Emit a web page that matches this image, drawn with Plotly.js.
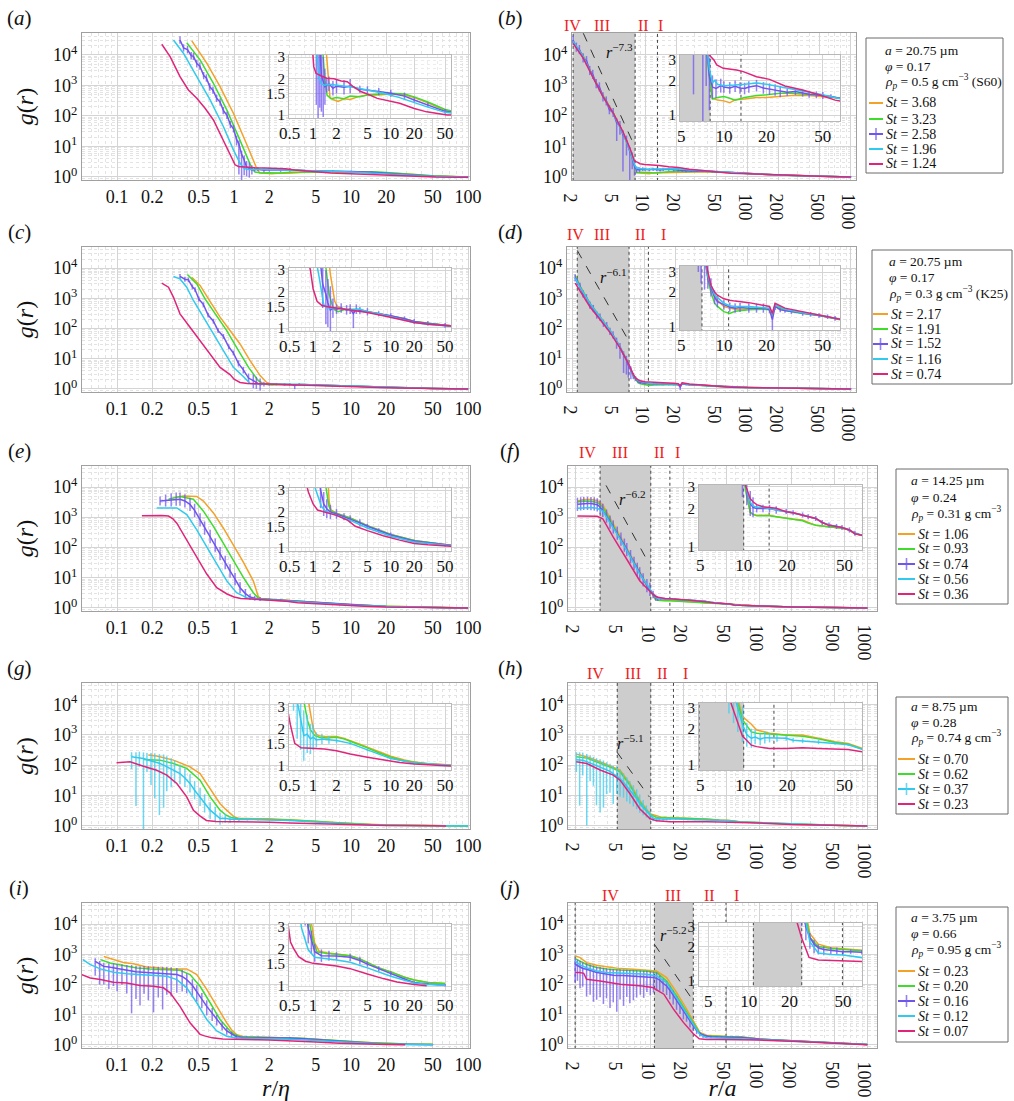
<!DOCTYPE html>
<html><head><meta charset="utf-8">
<script src="https://cdn.plot.ly/plotly-3.0.1.min.js"></script>
<style>html,body{margin:0;padding:0;background:#fff}#plot{width:1014px;height:1101px}</style>
</head><body><div id="plot"></div>
<script>
// ---------------- DATA ----------------
// Panel (a): r/eta, S60, St = 3.68, 3.23, 2.58, 1.96, 1.24
const A_or_x=[0.435,0.584,0.759,0.987,1.24,1.42,1.56,1.65,1.8,2.1,2.5,3,4,5,7,10,15,20,30,50,100];
const A_or_y=[29000,5400,910,123,16,4.6,1.93,1.38,1.33,1.28,1.35,1.33,1.42,1.45,1.45,1.48,1.45,1.38,1.25,1.08,1.0];
const A_gr_x=[0.394,0.512,0.666,0.866,1.09,1.28,1.42,1.51,1.7,2,2.5,3,4,5,7,10,15,20,30,50,100];
const A_gr_y=[25000,6900,1180,158,21,4.6,1.93,1.45,1.35,1.38,1.35,1.42,1.4,1.45,1.48,1.5,1.48,1.4,1.27,1.1,1.0];
const A_pu_x=[0.345,0.37,0.40,0.43,0.45,0.48,0.51,0.55,0.58,0.62,0.66,0.71,0.76,0.81,0.87,0.93,0.99,1.05,1.1,1.16,1.22,1.28,1.35,1.42,1.5,1.6,1.8,2,2.5,3,4,5,7,10,15,20,30,50,100];
const A_pu_y=[31000,17000,15000,9500,9000,5200,4300,2100,1750,900,700,380,285,150,105,52,38,17,12,5.5,3.6,2.1,1.9,1.7,1.75,1.8,1.65,1.72,1.68,1.72,1.62,1.6,1.55,1.5,1.42,1.32,1.2,1.06,1.0];
const A_pu_eh=[0.12,0.12,0.12,0.12,0.12,0.12,0.12,0.12,0.12,0.12,0.12,0.12,0.12,0.12,0.12,0.12,0.12,0.12,0.12,0.12,0.15,0.2,0.2,0.15,0.06,0.06,0.06,0.06,0.06,0.06,0.03,0.03,0.03,0.03,0.03,0.02,0.02,0.02,0.02];
const A_pu_el=[0.12,0.12,0.12,0.12,0.12,0.12,0.12,0.12,0.12,0.12,0.12,0.12,0.12,0.12,0.12,0.12,0.12,0.2,1.0,0.9,0.5,0.3,0.3,0.15,0.06,0.06,0.06,0.06,0.06,0.06,0.03,0.03,0.03,0.03,0.03,0.02,0.02,0.02,0.02];
const A_cy_x=[0.303,0.369,0.48,0.624,0.81,0.987,1.125,1.2,1.28,1.4,1.6,2,3,5,8,13,20,30,50,100];
const A_cy_y=[31000,11400,1940,335,45,7.7,2.8,2.0,1.8,1.75,1.78,1.75,1.7,1.6,1.5,1.38,1.25,1.15,1.04,1.0];
const A_pk_x=[0.241,0.284,0.345,0.407,0.48,0.565,0.666,0.785,0.924,1.02,1.09,1.26,1.5,1.86,2.3,2.76,3.3,4.1,5,6.7,10,13,20,29,53,100];
const A_pk_y=[22400,8800,1940,710,380,178,74,21,6,2.5,2.2,2.1,2.0,1.98,1.9,1.87,1.7,1.55,1.48,1.36,1.28,1.24,1.12,1.05,0.99,0.97];

// Panel (c): r/eta, K25, St = 2.17, 1.91, 1.52, 1.16, 0.74
const C_or_x=[0.435,0.512,0.604,0.759,0.924,1.125,1.37,1.67,1.9,2.05,2.5,3,4,5,7,10,15,20,30,50,100];
const C_or_y=[5000,2680,960,240,86,31,8.7,2.77,1.65,1.5,1.42,1.4,1.38,1.35,1.3,1.25,1.18,1.12,1.08,1.04,1.0];
const C_gr_x=[0.399,0.48,0.565,0.688,0.866,1.05,1.33,1.61,1.78,1.9,2.1,2.5,3,4,5,7,10,15,20,30,50,100];
const C_gr_y=[6200,3000,960,307,86,24,5.2,1.89,1.5,1.4,1.35,1.4,1.42,1.4,1.35,1.3,1.25,1.18,1.12,1.08,1.04,1.0];
const C_pu_x=[0.345,0.38,0.407,0.44,0.464,0.5,0.547,0.6,0.666,0.73,0.811,0.9,0.987,1.09,1.2,1.33,1.46,1.55,1.67,1.8,2,2.3,2.7,3,3.3,3.6,4,5,7,10,15,20,30,50,100];
const C_pu_y=[5300,4300,4100,2400,1950,950,620,280,175,85,55,25,15.5,7,4.3,2.3,1.89,1.6,1.39,1.45,1.42,1.45,1.4,1.42,1.3,1.42,1.38,1.35,1.3,1.25,1.18,1.12,1.08,1.04,1.0];
const C_pu_eh=[0.08,0.08,0.08,0.08,0.08,0.08,0.08,0.08,0.08,0.08,0.08,0.08,0.08,0.1,0.1,0.15,0.2,0.2,0.2,0.08,0.04,0.04,0.04,0.04,0.04,0.04,0.03,0.03,0.02,0.02,0.02,0.02,0.02,0.02,0.02];
const C_pu_el=[0.08,0.08,0.08,0.08,0.08,0.08,0.08,0.08,0.08,0.08,0.08,0.08,0.08,0.1,0.12,0.2,0.25,0.2,0.2,0.08,0.04,0.04,0.04,0.04,0.12,0.04,0.03,0.03,0.02,0.02,0.02,0.02,0.02,0.02,0.02];
const C_cy_x=[0.303,0.345,0.394,0.449,0.547,0.666,0.811,0.987,1.2,1.37,1.5,1.7,2,2.5,3,4,5,7,10,15,20,30,50,100];
const C_cy_y=[5300,4400,2340,850,240,67,18.7,5.2,2.6,1.55,1.45,1.45,1.45,1.42,1.4,1.42,1.35,1.3,1.22,1.15,1.1,1.06,1.03,1.0];
const C_pk_x=[0.241,0.275,0.303,0.345,0.42,0.512,0.624,0.759,0.924,1.0,1.125,1.3,1.6,2,2.5,3,5,8,13,20,30,50,100];
const C_pk_y=[3200,2340,1100,307,110,40,14.5,5.2,3.0,2.1,1.65,1.52,1.48,1.45,1.42,1.4,1.33,1.25,1.17,1.1,1.06,1.03,1.0];

// Panel (e): r/eta, St = 1.06, 0.93, 0.74, 0.56, 0.36
const E_or_x=[0.303,0.37,0.48,0.547,0.666,0.811,0.987,1.2,1.46,1.61,1.7,2,3,5,10,20,50,100];
const E_or_y=[4500,5100,4900,3470,1400,436,120,33,7.9,2.4,2.05,1.93,1.76,1.52,1.28,1.14,1.05,1.0];
const E_gr_x=[0.275,0.345,0.449,0.547,0.666,0.811,0.987,1.2,1.46,1.6,1.7,2,3,5,10,20,50,100];
const E_gr_y=[4000,4900,4000,1600,500,136,37,10.3,3.2,2.2,2.02,1.92,1.76,1.52,1.28,1.14,1.05,1.0];
const E_pu_x=[0.233,0.26,0.29,0.32,0.345,0.38,0.42,0.46,0.512,0.56,0.624,0.69,0.759,0.84,0.924,1.02,1.125,1.25,1.37,1.5,1.67,2,2.5,3,4,5,7,10,20,50,100];
const E_pu_y=[3470,3600,3800,4000,4000,3500,2680,1700,830,440,229,120,63,32,17,9,4.7,3.0,2.3,2.1,1.97,1.9,1.8,1.73,1.6,1.5,1.38,1.27,1.13,1.04,1.0];
const E_pu_e=[0.15,0.2,0.22,0.22,0.22,0.22,0.22,0.22,0.22,0.22,0.22,0.22,0.22,0.22,0.22,0.2,0.18,0.15,0.1,0.08,0.06,0.04,0.03,0.03,0.03,0.02,0.02,0.02,0.01,0.01,0.01];
const E_cy_x=[0.218,0.26,0.324,0.394,0.48,0.584,0.711,0.866,1.05,1.28,1.45,1.56,1.7,2,3,5,10,20,50,100];
const E_cy_y=[2050,2050,2050,1230,385,105,29,7.9,3.2,2.2,2.0,1.95,1.92,1.85,1.68,1.45,1.24,1.11,1.04,1.0];
const E_pk_x=[0.163,0.2,0.24,0.275,0.3,0.324,0.394,0.48,0.584,0.711,0.87,1.0,1.14,1.4,1.7,2,2.8,3.5,5,8,13,20,30,50,100];
const E_pk_y=[1140,1150,1150,1100,900,640,177,49,13.3,4.7,2.9,2.3,2.05,1.98,1.92,1.85,1.68,1.5,1.38,1.25,1.15,1.08,1.05,1.02,1.0];

// Panel (g): r/eta, St = 0.70, 0.62, 0.37, 0.23
const G_or_x=[0.185,0.218,0.303,0.42,0.512,0.624,0.759,0.85,0.924,1.0,1.09,1.2,1.5,2,2.5,3,4,5,7,10,15,20,30,50,100];
const G_or_y=[214,200,146,88,53,17,5.4,3.5,2.6,2.0,1.8,1.75,1.72,1.72,1.66,1.6,1.5,1.42,1.3,1.2,1.12,1.08,1.05,1.03,1.0];
const G_gr_x=[0.168,0.233,0.303,0.394,0.512,0.624,0.759,0.85,0.924,1.05,1.2,1.5,2,2.5,3,4,5,7,10,15,20,30,50,100];
const G_gr_y=[154,146,113,78,32,9,3.3,2.3,1.95,1.75,1.7,1.68,1.7,1.65,1.58,1.48,1.4,1.28,1.18,1.1,1.07,1.04,1.02,1.0];
const G_cy_x=[0.133,0.145,0.155,0.168,0.18,0.195,0.21,0.23,0.25,0.266,0.29,0.31,0.345,0.38,0.42,0.46,0.512,0.56,0.624,0.69,0.759,0.84,0.924,1.0,1.1,1.3,1.6,2,3,5,10,20,50,100];
const G_cy_y=[188,180,175,166,150,140,129,115,100,88,75,63,53,38,25,15,9,5.5,3.3,2.4,1.75,1.8,1.65,1.7,1.62,1.65,1.62,1.6,1.52,1.35,1.15,1.06,1.02,1.0];
const G_cy_eh=[0.15,0.17,0.2,0.2,0.22,0.25,0.28,0.3,0.35,0.35,0.35,0.35,0.3,0.3,0.3,0.3,0.3,0.3,0.25,0.25,0.2,0.15,0.12,0.1,0.06,0.04,0.03,0.02,0.01,0.01,0.01,0.01,0.01,0.01];
const G_cy_el=[0.4,1.6,0.3,3,0.4,0.8,1.2,1.7,1.4,0.8,0.6,0.4,0.35,0.3,0.3,0.3,0.3,0.3,0.3,0.25,0.2,0.15,0.12,0.1,0.06,0.04,0.03,0.02,0.01,0.01,0.01,0.01,0.01,0.01];
const G_pk_x=[0.099,0.129,0.168,0.218,0.266,0.324,0.394,0.449,0.51,0.58,0.7,1.0,1.4,2,3,5,8,13,20,50,65];
const G_pk_y=[120,129,92,68,47,25,9,3.3,2.14,1.52,1.4,1.38,1.37,1.33,1.25,1.18,1.12,1.07,1.04,1.02,1.0];

// Panel (i): r/eta, St = 0.23, 0.20, 0.16, 0.12, 0.07
const I_or_x=[0.077,0.093,0.113,0.138,0.179,0.233,0.303,0.394,0.48,0.584,0.711,0.866,0.95,1.05,1.2,1.5,2,3,4,5,7,10,15,20,30,50];
const I_or_y=[850,670,540,490,380,355,330,330,214,69,19,5.4,3.2,2.2,1.9,1.85,1.8,1.75,1.65,1.55,1.4,1.3,1.18,1.12,1.07,1.05];
const I_gr_x=[0.072,0.087,0.113,0.148,0.191,0.266,0.345,0.42,0.512,0.624,0.759,0.924,1.0,1.125,1.5,2,3,4,5,7,10,15,20,30,50];
const I_gr_y=[670,515,425,355,330,310,296,214,88,25,7,2.9,2.3,1.88,1.82,1.8,1.75,1.65,1.55,1.4,1.3,1.18,1.12,1.07,1.05];
const I_pu_x=[0.065,0.071,0.077,0.085,0.093,0.1,0.11,0.121,0.133,0.145,0.157,0.17,0.185,0.205,0.225,0.245,0.266,0.29,0.324,0.36,0.394,0.44,0.48,0.53,0.584,0.65,0.711,0.79,0.866,0.95,1.05,1.28,1.6,2,3,4,5,7,10,15,20,30,50];
const I_pu_y=[590,480,400,380,355,330,310,296,280,265,256,250,245,240,235,232,230,225,214,185,146,95,60,33,19,11,7,4.3,2.9,2.3,1.88,1.75,1.75,1.74,1.7,1.6,1.5,1.38,1.25,1.14,1.07,1.04,1.02];
const I_pu_eh=[0.1,0.1,0.12,0.12,0.15,0.15,0.18,0.18,0.2,0.2,0.2,0.22,0.22,0.22,0.22,0.22,0.22,0.22,0.22,0.22,0.2,0.2,0.2,0.2,0.2,0.18,0.15,0.12,0.1,0.08,0.06,0.05,0.04,0.03,0.03,0.03,0.02,0.02,0.02,0.01,0.01,0.01,0.01];
const I_pu_el=[0.47,0.68,0.6,0.73,0.6,0.74,0.5,0.77,1.4,0.9,1.1,0.7,0.91,1.3,0.8,1.19,0.7,0.75,0.6,0.5,0.45,0.4,0.35,0.3,0.3,0.25,0.2,0.15,0.12,0.1,0.08,0.05,0.04,0.03,0.03,0.03,0.02,0.02,0.02,0.01,0.01,0.01,0.01];
const I_cy_x=[0.051,0.059,0.072,0.093,0.121,0.157,0.205,0.266,0.324,0.394,0.48,0.584,0.711,0.866,1.05,1.3,1.6,2,3,5,10,20,30,50];
const I_cy_y=[670,457,330,256,230,214,200,188,146,78,25,7,2.9,1.95,1.7,1.68,1.65,1.62,1.55,1.4,1.2,1.06,1.03,1.02];
const I_pk_x=[0.05,0.059,0.072,0.093,0.121,0.157,0.205,0.249,0.284,0.345,0.42,0.512,0.56,0.65,0.8,1.0,1.3,1.6,2,3,4,5,8,12,20,29];
const I_pk_y=[214,166,146,120,113,93,88,78,53,19,5.4,2.25,2.0,1.72,1.58,1.52,1.5,1.48,1.45,1.38,1.3,1.25,1.15,1.08,1.03,1.01];

// Panel (b): r/a
const B_x=[2.0,2.5,3.1,3.9,4.9,6.1,7.1,7.9,8.3,9,10,11,12,14,17,20,25,30,40,50,67,100,200,500,1000];
const B_or_y=[26000,9500,2100,480,130,28,7.8,2.2,1.4,1.35,1.33,1.28,1.36,1.38,1.42,1.42,1.45,1.48,1.48,1.45,1.4,1.3,1.15,1.05,1.0];
const B_gr_y=[26000,9300,2000,460,125,27,7.5,2.1,1.38,1.42,1.45,1.4,1.35,1.42,1.48,1.5,1.55,1.55,1.5,1.48,1.4,1.3,1.15,1.05,1.0];
const B_pu_x=[2.0,2.15,2.3,2.5,2.7,2.9,3.1,3.35,3.6,3.9,4.2,4.5,4.9,5.3,5.7,6.1,6.6,7.1,7.5,7.9,8.3,8.8,9.5,10,11,12,13,14,15,17,19,21,23,25,28,32,36,40,45,50,57,67,100,200,500,1000];
const B_pu_y=[30000,18000,15000,8000,6500,3100,2300,1150,900,420,310,160,130,60,48,24,16,6.8,4.5,2.2,1.75,1.7,1.8,1.75,1.72,1.78,1.72,1.7,1.75,1.8,1.72,1.68,1.65,1.6,1.58,1.6,1.55,1.52,1.5,1.48,1.45,1.4,1.3,1.15,1.05,1.0];
const B_pu_eh=[0.15,0.15,0.15,0.15,0.15,0.15,0.15,0.15,0.15,0.15,0.15,0.15,0.15,0.15,0.15,0.15,0.15,0.15,0.15,0.15,0.1,0.08,0.06,0.05,0.05,0.05,0.05,0.05,0.05,0.05,0.05,0.05,0.05,0.05,0.03,0.03,0.03,0.03,0.03,0.03,0.02,0.02,0.02,0.02,0.02,0.02];
const B_pu_el=[0.15,0.15,0.15,0.15,0.15,0.15,0.15,0.15,0.15,0.15,0.15,0.15,0.15,0.6,0.3,1.2,0.5,1.0,0.4,0.3,0.1,0.08,0.06,0.05,0.05,0.05,0.05,0.05,0.05,0.05,0.05,0.05,0.05,0.05,0.03,0.03,0.03,0.03,0.03,0.03,0.02,0.02,0.02,0.02,0.02,0.02];
const B_cy_x=[2.0,2.5,3.1,3.9,4.9,6.1,7.1,7.9,8.3,8.6,9,10,11,12,14,17,20,25,30,40,50,67,100,200,500,1000];
const B_cy_y=[28000,9000,1950,430,122,27,7.6,2.5,1.9,2.0,1.85,1.8,1.8,1.82,1.85,1.9,1.85,1.75,1.68,1.58,1.5,1.38,1.3,1.15,1.05,1.0];
const B_pk_x=[2.0,2.5,3.1,3.9,4.9,6.1,7.1,7.9,8.5,8.9,9.9,12.3,13.7,17,21,27,36,47,61,68,100,200,500,1000];
const B_pk_y=[24000,8000,1900,430,125,30,9,3.3,3.0,2.72,2.54,2.46,2.38,2.15,2.04,1.79,1.65,1.5,1.35,1.32,1.28,1.15,1.05,1.0];
const B_st=['3.68','3.23','2.58','1.96','1.24'];
const B_info=['<i>a</i> = 20.75 µm','<i>φ</i> = 0.17','<i>ρ</i><sub><i>p</i></sub> = 0.5 g cm<sup>−3</sup> (S60)'];
const B_bounds=[2.0,8.0,13.2], B_shade=[2.0,8.0];
const B_pl_x=[2.51,7.7], B_pl_y=[51500,12.5], B_pl_lab=[5.6,13800,'−7.3'];

// Panel (d): r/a
const D_x=[2.1,2.34,2.92,3.66,4.57,5.72,6.9,7.7,8.1,8.6,9,10,11,12,15,19,21,22,23,27,36,47,61,68,100,200,500,1000];
const D_or_y=[5700,2600,700,250,90,25,7,2.9,2.3,1.9,1.7,1.5,1.45,1.42,1.42,1.45,1.42,1.28,1.55,1.4,1.32,1.26,1.18,1.15,1.12,1.08,1.03,1.0];
const D_gr_y=[5800,2500,680,240,86,24,6.7,2.6,2.0,1.6,1.5,1.35,1.3,1.36,1.4,1.42,1.4,1.25,1.5,1.38,1.3,1.25,1.18,1.14,1.12,1.08,1.03,1.0];
const D_cy_y=[4700,2350,680,245,88,25,7.2,2.8,2.3,1.9,1.8,1.6,1.52,1.5,1.5,1.48,1.45,1.3,1.55,1.42,1.32,1.26,1.18,1.15,1.12,1.08,1.03,1.0];
const D_pk_y=[3200,1800,520,200,75,23,7,3.0,2.3,2.0,1.88,1.75,1.7,1.67,1.62,1.55,1.5,1.3,1.6,1.45,1.35,1.27,1.2,1.15,1.12,1.08,1.03,1.0];
const D_pu_x=[2.1,2.2,2.34,2.5,2.7,2.92,3.15,3.4,3.66,3.95,4.25,4.57,4.9,5.3,5.72,6.2,6.6,6.9,7.3,7.7,8.1,8.6,9,10,11,12,13,15,17,19,21,22,23,25,27,30,36,41,47,54,61,68,100,200,500,1000];
const D_pu_y=[4800,3600,2500,1400,1050,600,460,280,240,150,125,80,62,38,25,13.5,9.5,6,4.2,2.7,2.2,1.8,1.65,1.55,1.48,1.45,1.47,1.45,1.45,1.45,1.4,1.15,1.5,1.4,1.38,1.35,1.3,1.28,1.25,1.22,1.18,1.15,1.12,1.08,1.03,1.0];
const D_pu_eh=[0.12,0.12,0.12,0.12,0.12,0.12,0.12,0.12,0.12,0.12,0.12,0.12,0.12,0.12,0.12,0.12,0.12,0.12,0.12,0.1,0.08,0.06,0.05,0.04,0.04,0.04,0.04,0.04,0.04,0.04,0.03,0.03,0.03,0.02,0.02,0.02,0.02,0.02,0.02,0.02,0.02,0.02,0.02,0.02,0.02,0.02];
const D_pu_el=[0.12,0.12,0.12,0.12,0.12,0.12,0.12,0.12,0.12,0.12,0.12,0.12,0.12,0.25,0.4,0.6,0.5,0.4,0.3,0.1,0.08,0.06,0.05,0.04,0.04,0.04,0.04,0.04,0.04,0.04,0.03,0.1,0.03,0.02,0.02,0.02,0.02,0.02,0.02,0.02,0.02,0.02,0.02,0.02,0.02,0.02];
const D_st=['2.17','1.91','1.52','1.16','0.74'];
const D_info=['<i>a</i> = 20.75 µm','<i>φ</i> = 0.17','<i>ρ</i><sub><i>p</i></sub> = 0.3 g cm<sup>−3</sup> (K25)'];
const D_bounds=[2.2,7.0,10.8], D_shade=[2.2,7.0];
const D_pl_x=[2.2,6.8], D_pl_y=[38600,45], D_pl_lab=[4.93,5300,'−6.1'];

// Panel (f): r/a
const F_x=[2.1,2.4,2.8,3.2,3.6,4.5,6.0,7.9,9.8,10.5,11.1,11.6,12.3,13.6,15.1,16.8,19.7,22,25.6,28,31.6,35,39,44,48,54,59,67,100,200,500,1000];
const F_or_y=[3500,3900,3900,3600,2600,600,95,15,4.0,2.6,1.85,1.8,1.77,1.77,1.77,1.72,1.67,1.65,1.62,1.55,1.47,1.45,1.43,1.42,1.39,1.35,1.26,1.22,1.17,1.08,1.03,1.0];
const F_gr_y=[3200,3500,3400,3100,2200,520,85,14,3.9,2.5,1.88,1.8,1.75,1.75,1.75,1.72,1.67,1.63,1.6,1.53,1.47,1.45,1.43,1.42,1.39,1.35,1.26,1.22,1.17,1.08,1.03,1.0];
const F_cy_y=[2000,2100,2100,2000,1600,450,80,13.5,4.2,2.8,2.25,2.1,2.05,2.05,2.0,1.95,1.9,1.85,1.78,1.72,1.67,1.55,1.48,1.44,1.41,1.35,1.27,1.22,1.17,1.08,1.03,1.0];
const F_pk_y=[1100,1100,1100,1080,900,220,41,8,3.6,2.82,2.4,2.27,2.15,2.07,2.03,2.01,1.89,1.85,1.77,1.72,1.67,1.55,1.47,1.44,1.41,1.35,1.26,1.22,1.17,1.08,1.03,1.0];
const F_pu_x=[2.1,2.25,2.4,2.6,2.8,3.0,3.2,3.4,3.6,3.9,4.2,4.5,4.9,5.3,5.7,6.0,6.5,7.0,7.5,7.9,8.5,9.2,9.8,10.5,11.1,11.6,12.3,13.6,15.1,16.8,19.7,22,25.6,28,31.6,35,39,44,48,54,59,67,100,200,500,1000];
const F_pu_y=[2700,2800,2900,2900,2850,2800,2600,2200,1700,1100,700,480,300,190,120,85,50,30,19,13.5,8.5,5.5,4.1,2.8,2.2,2.05,2.0,2.0,2.0,1.95,1.9,1.85,1.78,1.72,1.67,1.55,1.48,1.44,1.41,1.35,1.27,1.22,1.17,1.08,1.03,1.0];
const F_pu_e=[0.22,0.22,0.22,0.22,0.22,0.22,0.22,0.22,0.22,0.22,0.22,0.22,0.22,0.22,0.22,0.22,0.22,0.22,0.22,0.22,0.22,0.22,0.22,0.12,0.1,0.08,0.03,0.03,0.03,0.03,0.02,0.02,0.02,0.02,0.02,0.02,0.02,0.02,0.02,0.02,0.02,0.02,0.02,0.02,0.02,0.02];
const F_st=['1.06','0.93','0.74','0.56','0.36'];
const F_info=['<i>a</i> = 14.25 µm','<i>φ</i> = 0.24','<i>ρ</i><sub><i>p</i></sub> = 0.31 g cm<sup>−3</sup>'];
const F_bounds=[3.4,10.0,15.0], F_shade=[3.4,10.0];
const F_pl_x=[3.86,9.5], F_pl_y=[11400,32], F_pl_lab=[6.8,4450,'−6.2'];

// Panel (h): r/a
const H_x=[2.05,2.56,3.4,4.5,5.2,6.4,7.9,9.8,11.3,12.3,15.1,19.7,25.6,33,43,53,67,100,200,500,1000];
const H_or_y=[230,188,129,88,69,25,7,2.55,2.2,1.97,1.85,1.79,1.79,1.68,1.57,1.52,1.38,1.29,1.13,1.05,1.0];
const H_gr_y=[190,170,115,78,60,22,6.2,2.4,1.9,1.85,1.82,1.78,1.75,1.66,1.55,1.5,1.36,1.29,1.13,1.05,1.0];
const H_pk_y=[129,113,69,47,32,11.7,3.7,1.75,1.47,1.43,1.38,1.38,1.4,1.38,1.36,1.35,1.29,1.25,1.12,1.05,1.0];
const H_cy_x=[2.05,2.2,2.35,2.56,2.75,2.95,3.15,3.4,3.65,3.9,4.2,4.5,4.85,5.2,5.6,6.0,6.4,6.9,7.4,7.9,8.5,9.1,9.8,10.5,11.3,12,13,14,15.1,17,19.7,22,25.6,33,43,53,67,100,200,500,1000];
const H_cy_y=[150,148,145,130,118,105,95,88,80,70,62,53,45,36,27,20,15,11,8,5.4,4,3,2.2,1.8,1.68,1.72,1.65,1.7,1.7,1.68,1.68,1.62,1.6,1.57,1.52,1.48,1.35,1.29,1.13,1.05,1.0];
const H_cy_eh=[0.25,0.25,0.25,0.25,0.25,0.25,0.25,0.25,0.25,0.25,0.25,0.25,0.3,0.3,0.3,0.3,0.3,0.3,0.3,0.3,0.25,0.2,0.15,0.1,0.08,0.06,0.05,0.05,0.04,0.03,0.02,0.02,0.02,0.02,0.01,0.01,0.01,0.01,0.01,0.01,0.01];
const H_cy_el=[0.4,1.5,0.5,2.1,0.6,0.7,1.3,1.5,1.3,0.8,0.7,1.0,0.6,0.6,0.5,0.5,0.45,0.4,0.35,0.3,0.25,0.2,0.15,0.1,0.08,0.06,0.05,0.05,0.04,0.03,0.02,0.02,0.02,0.02,0.01,0.01,0.01,0.01,0.01,0.01,0.01];
const H_st=['0.70','0.62','0.37','0.23'];
const H_info=['<i>a</i> = 8.75 µm','<i>φ</i> = 0.28','<i>ρ</i><sub><i>p</i></sub> = 0.74 g cm<sup>−3</sup>'];
const H_bounds=[4.9,10.0,16.2], H_shade=[4.9,10.0];
const H_pl_x=[4.84,9.7], H_pl_y=[275,9.0], H_pl_lab=[6.5,575,'−5.1'];

// Panel (j): r/a
const J_x=[2.0,2.22,2.55,3.16,3.9,5.2,6.9,9.2,11.3,14,17.3,21.4,26.5,28.4,32.8,40.6,50,69,100,200,500,1000];
const J_or_y=[890,780,530,435,390,337,320,305,280,170,55,15.4,4.0,2.6,2.1,1.95,1.9,1.85,1.58,1.39,1.16,1.03];
const J_gr_y=[720,600,460,365,330,305,290,275,250,132,42,12,3.6,2.4,2.0,1.92,1.88,1.83,1.57,1.39,1.16,1.03];
const J_cy_y=[600,450,360,280,250,236,225,218,193,117,37,10.5,3.3,2.2,1.75,1.7,1.68,1.6,1.5,1.35,1.15,1.03];
const J_pk_x=[2.0,2.2,2.4,2.55,3.4,5.2,8.3,10.4,13.2,16.2,20,24.6,28,32.8,42,50,69,100,200,500,1000];
const J_pk_y=[250,250,236,150,132,102,90,80,48,15.4,5.6,2.4,1.6,1.52,1.51,1.5,1.49,1.45,1.33,1.14,1.02];
const J_pu_x=[2.0,2.1,2.22,2.35,2.55,2.75,2.95,3.16,3.4,3.65,3.9,4.2,4.5,4.85,5.2,5.6,6.0,6.4,6.9,7.4,8.0,8.6,9.2,9.9,10.6,11.3,12.1,13,14,15,16.1,17.3,18.6,20,21.4,23,24.7,26.5,28.4,30.5,32.8,36,40.6,45,50,57,69,100,200,500,1000];
const J_pu_y=[470,420,380,340,320,290,270,250,240,228,220,212,205,200,204,198,195,192,190,186,184,182,180,176,170,160,140,110,90,65,44,29,19,12.5,9.3,6,4.3,3.0,2.4,2.1,1.95,1.88,1.85,1.83,1.8,1.8,1.78,1.57,1.38,1.16,1.03];
const J_pu_eh=[0.2,0.2,0.2,0.2,0.2,0.2,0.2,0.2,0.2,0.2,0.2,0.2,0.2,0.2,0.2,0.2,0.2,0.2,0.2,0.2,0.2,0.2,0.2,0.2,0.2,0.2,0.15,0.15,0.15,0.15,0.15,0.15,0.1,0.1,0.08,0.06,0.05,0.05,0.04,0.04,0.03,0.03,0.03,0.03,0.02,0.02,0.02,0.02,0.02,0.02,0.02];
const J_pu_el=[0.6,0.5,0.7,0.6,0.9,0.8,1.0,0.9,0.8,1.0,0.8,1.1,0.9,1.2,0.8,1.0,0.7,0.9,0.8,0.7,0.6,0.7,0.5,0.6,0.5,0.4,0.35,0.3,0.3,0.3,0.3,0.3,0.25,0.25,0.2,0.2,0.15,0.12,0.1,0.08,0.06,0.05,0.04,0.03,0.02,0.02,0.02,0.01,0.01,0.01,0.01];
const J_st=['0.23','0.20','0.16','0.12','0.07'];
const J_info=['<i>a</i> = 3.75 µm','<i>φ</i> = 0.66','<i>ρ</i><sub><i>p</i></sub> = 0.95 g cm<sup>−3</sup>'];
const J_bounds=[2.0,10.8,24.7,49.5], J_shade=[10.8,24.7];
const J_pl_x=[10.8,24.7], J_pl_y=[2140,29], J_pl_lab=[16.1,4560,'−5.2'];

// tick labels
const L_XT=[0.1,0.2,0.5,1,2,5,10,20,50,100];
const R_XT=[2,5,10,20,50,100,200,500,1000];
const M_YT=[1,10,100,1000,10000];
const M_YTT=['10<sup>0</sup>','10<sup>1</sup>','10<sup>2</sup>','10<sup>3</sup>','10<sup>4</sup>'];
const LI_XT=[0.5,1,2,5,10,20,50];
const LI_YT=[1,1.5,2,3];
const RI_XT=[5,10,20,50];
const RI_YT=[1,2,3];

// ---------------- STYLE / GEOMETRY ----------------
const W=1014,H=1101;
const FONT='Liberation Serif, Times New Roman, serif';
const COL={or:'#f4a127',gr:'#3fdc2c',pu:'#6f55ec',cy:'#2fcaee',pk:'#e0247a'};
const ERRCOL={pu:'rgba(112,88,240,0.75)',cy:'rgba(70,205,240,0.8)'};
const px=v=>v/W, py=v=>1-v/H;

function S(c,x,y,eh,el){return {c,x,y,eh,el};}
const panels=[
 {id:'a',side:'L',g:{x:[82,470],y:[33,180],yr:[-0.1,4.72],xr:[-1.3,2.017],ix:[289,451],iy:[55,118],ixr:[-0.31,1.775],iyr:[-0.03,0.495]},
  series:[S('or',A_or_x,A_or_y),S('gr',A_gr_x,A_gr_y),S('pu',A_pu_x,A_pu_y,A_pu_eh,A_pu_el),S('cy',A_cy_x,A_cy_y),S('pk',A_pk_x,A_pk_y)]},
 {id:'b',side:'R',g:{x:[572,856],y:[33,180],yr:[-0.1,4.72],xr:[0.29,3.05],ix:[680,840],iy:[55,121],ixr:[0.69,1.82],iyr:[-0.05,0.52]},
  series:[S('or',B_x,B_or_y),S('gr',B_x,B_gr_y),S('pu',B_pu_x,B_pu_y,B_pu_eh,B_pu_el),S('cy',B_cy_x,B_cy_y),S('pk',B_pk_x,B_pk_y)],
  st:B_st,info:B_info,bounds:B_bounds,shade:B_shade,plx:B_pl_x,ply:B_pl_y,pll:B_pl_lab,
  leg:{box:[866,38,1003,173],tx:883,ty:[50,66,82],iy:[103,119,134,149,164],sw:[869,883]},
  reg:[[572,'IV'],[602,'III'],[643,'II'],[660,'I']],regy:25},
 {id:'c',side:'L',g:{x:[82,470],y:[247,392],yr:[-0.1,4.7],xr:[-1.3,2.017],ix:[289,451],iy:[268,331],ixr:[-0.31,1.775],iyr:[-0.03,0.495]},
  series:[S('or',C_or_x,C_or_y),S('gr',C_gr_x,C_gr_y),S('pu',C_pu_x,C_pu_y,C_pu_eh,C_pu_el),S('cy',C_cy_x,C_cy_y),S('pk',C_pk_x,C_pk_y)]},
 {id:'d',side:'R',g:{x:[567,856],y:[247,392],yr:[-0.1,4.7],xr:[0.243,3.049],ix:[680,840],iy:[266,330],ixr:[0.69,1.82],iyr:[-0.03,0.53]},
  series:[S('or',D_x,D_or_y),S('gr',D_x,D_gr_y),S('pu',D_pu_x,D_pu_y,D_pu_eh,D_pu_el),S('cy',D_x,D_cy_y),S('pk',D_x,D_pk_y)],
  st:D_st,info:D_info,bounds:D_bounds,shade:D_shade,plx:D_pl_x,ply:D_pl_y,pll:D_pl_lab,
  leg:{box:[872,250,1012,384],tx:887,ty:[262,278,294],iy:[314,329,344,359,374],sw:[873,888]},
  reg:[[575,'IV'],[602,'III'],[640,'II'],[663,'I']],regy:235},
 {id:'e',side:'L',g:{x:[82,470],y:[466,611],yr:[-0.1,4.7],xr:[-1.3,2.017],ix:[289,451],iy:[488,551],ixr:[-0.31,1.775],iyr:[-0.03,0.495]},
  series:[S('or',E_or_x,E_or_y),S('gr',E_gr_x,E_gr_y),S('pu',E_pu_x,E_pu_y,E_pu_e,E_pu_e),S('cy',E_cy_x,E_cy_y),S('pk',E_pk_x,E_pk_y)]},
 {id:'f',side:'R',g:{x:[568,877],y:[466,611],yr:[-0.1,4.7],xr:[0.235,3.09],ix:[699,862],iy:[485,550],ixr:[0.69,1.82],iyr:[-0.03,0.49]},
  series:[S('or',F_x,F_or_y),S('gr',F_x,F_gr_y),S('pu',F_pu_x,F_pu_y,F_pu_e,F_pu_e),S('cy',F_x,F_cy_y),S('pk',F_x,F_pk_y)],
  st:F_st,info:F_info,bounds:F_bounds,shade:F_shade,plx:F_pl_x,ply:F_pl_y,pll:F_pl_lab,
  leg:{box:[896,469,1008,604],tx:909,ty:[480,497,513],iy:[534,549,564,579,594],sw:[898,915]},
  reg:[[587,'IV'],[620,'III'],[659,'II'],[677,'I']],regy:453},
 {id:'g',side:'L',g:{x:[82,470],y:[683,829],yr:[-0.1,4.7],xr:[-1.3,2.017],ix:[289,451],iy:[704,770],ixr:[-0.31,1.775],iyr:[-0.03,0.495]},
  series:[S('or',G_or_x,G_or_y),S('gr',G_gr_x,G_gr_y),S('cy',G_cy_x,G_cy_y,G_cy_eh,G_cy_el),S('pk',G_pk_x,G_pk_y)]},
 {id:'h',side:'R',g:{x:[568,877],y:[683,829],yr:[-0.1,4.7],xr:[0.235,3.09],ix:[699,862],iy:[703,770],ixr:[0.69,1.82],iyr:[-0.04,0.52]},
  series:[S('or',H_x,H_or_y),S('gr',H_x,H_gr_y),S('cy',H_cy_x,H_cy_y,H_cy_eh,H_cy_el),S('pk',H_x,H_pk_y)],
  st:H_st,info:H_info,bounds:H_bounds,shade:H_shade,plx:H_pl_x,ply:H_pl_y,pll:H_pl_lab,
  leg:{box:[896,697,1008,814],tx:909,ty:[706,722,737],iy:[759,774,789,804],sw:[898,915]},
  reg:[[595,'IV'],[633,'III'],[662,'II'],[685,'I']],regy:673},
 {id:'i',side:'L',g:{x:[82,470],y:[903,1048],yr:[-0.1,4.7],xr:[-1.3,2.017],ix:[289,451],iy:[924,990],ixr:[-0.31,1.775],iyr:[-0.03,0.495]},
  series:[S('or',I_or_x,I_or_y),S('gr',I_gr_x,I_gr_y),S('pu',I_pu_x,I_pu_y,I_pu_eh,I_pu_el),S('cy',I_cy_x,I_cy_y),S('pk',I_pk_x,I_pk_y)]},
 {id:'j',side:'R',g:{x:[568,877],y:[903,1048],yr:[-0.1,4.7],xr:[0.235,3.09],ix:[699,862],iy:[923,986],ixr:[0.63,1.84],iyr:[-0.05,0.51]},
  series:[S('or',J_x,J_or_y),S('gr',J_x,J_gr_y),S('pu',J_pu_x,J_pu_y,J_pu_eh,J_pu_el),S('cy',J_x,J_cy_y),S('pk',J_pk_x,J_pk_y)],
  st:J_st,info:J_info,bounds:J_bounds,shade:J_shade,plx:J_pl_x,ply:J_pl_y,pll:J_pl_lab,
  leg:{box:[896,907,1008,1042],tx:909,ty:[917,933,949],iy:[971,986,1001,1016,1031],sw:[898,915]},
  reg:[[610,'IV'],[673,'III'],[709,'II'],[736,'I']],regy:895}
];

function minorVals(lo,hi){const v=[];for(let e=lo;e<=hi;e++)for(let m=2;m<10;m++)v.push(m*Math.pow(10,e));return v;}
function axBase(){return {type:'log',showline:true,linecolor:'#a0a0a0',linewidth:1,mirror:true,ticks:'',
  showgrid:true,gridcolor:'#d4d4d4',gridwidth:1,zeroline:false,fixedrange:true,
  tickfont:{family:FONT,size:18,color:'#111'},automargin:false};}

const data=[],layout={width:W,height:H,margin:{l:0,r:0,t:0,b:0},paper_bgcolor:'#fff',plot_bgcolor:'#fff',
  showlegend:false,hovermode:false,annotations:[],shapes:[]};

panels.forEach((p,k)=>{
  const n=k+1, m=k+11;
  const xa=n===1?'x':'x'+n, ya=n===1?'y':'y'+n, xi='x'+m, yi='y'+m;
  const kx=n===1?'xaxis':'xaxis'+n, ky=n===1?'yaxis':'yaxis'+n;
  const g=p.g;
  const L=p.side==='L';
  // main axes
  layout[kx]=Object.assign(axBase(),{domain:[px(g.x[0]),px(g.x[1])],range:g.xr,anchor:ya,
    tickmode:'array',tickvals:L?L_XT:R_XT,ticktext:(L?L_XT:R_XT).map(String),
    minor:{tickmode:'array',tickvals:L?minorVals(-2,1):minorVals(0,2),showgrid:true,gridcolor:'#e3e3e3',griddash:'dot',gridwidth:1}});
  layout[ky]=Object.assign(axBase(),{domain:[py(g.y[1]),py(g.y[0])],range:g.yr,anchor:xa,
    tickmode:'array',tickvals:M_YT,ticktext:M_YTT,
    minor:{tickmode:'array',tickvals:minorVals(-1,4),showgrid:true,gridcolor:'#e3e3e3',griddash:'dot',gridwidth:1}});
  if(L) layout[ky].title={text:'<i>g</i>(<i>r</i>)',font:{family:FONT,size:24,color:'#111'},standoff:12};
  // inset axes
  layout['xaxis'+m]=Object.assign(axBase(),{domain:[px(g.ix[0]),px(g.ix[1])],range:g.ixr,anchor:yi,
    tickmode:'array',tickvals:L?LI_XT:RI_XT,ticktext:(L?LI_XT:RI_XT).map(String),linecolor:'#b8b8b8',
    tickfont:{family:FONT,size:17,color:'#111'},
    minor:{tickmode:'array',tickvals:minorVals(-1,1),showgrid:true,gridcolor:'#ececec',griddash:'dot',gridwidth:1}});
  layout['yaxis'+m]=Object.assign(axBase(),{domain:[py(g.iy[1]),py(g.iy[0])],range:g.iyr,anchor:xi,
    tickmode:'array',tickvals:L?LI_YT:RI_YT,ticktext:(L?LI_YT:RI_YT).map(String),linecolor:'#b8b8b8',
    tickfont:{family:FONT,size:15,color:'#111'},
    minor:{tickmode:'array',tickvals:[1.1,1.2,1.3,1.4,1.6,1.7,1.8,1.9,2.2,2.4,2.6,2.8],showgrid:true,gridcolor:'#ececec',griddash:'dot',gridwidth:1}});

  // panel label
  layout.annotations.push({xref:'paper',yref:'paper',x:px(L?19:510),y:py(g.y[0]-15),text:'(<i>'+p.id+'</i>)',
    showarrow:false,font:{family:FONT,size:21,color:'#111'},xanchor:'center',yanchor:'middle'});

  const pairs=[[xa,ya],[xi,yi]];
  if(!L){
    pairs.forEach(([X,Y])=>{
      data.push({type:'scatter',mode:'lines',x:[p.shade[0],p.shade[1],p.shade[1],p.shade[0],p.shade[0]],
        y:[0.3,0.3,1e6,1e6,0.3],fill:'toself',fillcolor:'#cdcdcd',line:{width:0},xaxis:X,yaxis:Y,hoverinfo:'skip'});
      const vx=[],vy=[];
      p.bounds.forEach(b=>{vx.push(b,b,null);vy.push(0.3,1e6,null);});
      data.push({type:'scatter',mode:'lines',x:vx,y:vy,line:{color:'#444',width:1,dash:'dot'},xaxis:X,yaxis:Y,hoverinfo:'skip'});
    });
    data.push({type:'scatter',mode:'lines',x:p.plx,y:p.ply,line:{color:'#333',width:1,dash:'dash'},xaxis:xa,yaxis:ya,hoverinfo:'skip'});
    layout.annotations.push({xref:xa,yref:ya,x:Math.log10(p.pll[0]),y:Math.log10(p.pll[1]),
      text:'<i>r</i><sup>'+p.pll[2]+'</sup>',showarrow:false,font:{family:FONT,size:16,color:'#111'}});
    p.reg.forEach(([x,t])=>layout.annotations.push({xref:'paper',yref:'paper',x:px(x),y:py(p.regy),text:t,
      showarrow:false,font:{family:FONT,size:16,color:'#ee1c1c'},xanchor:'center',yanchor:'middle'}));
    // custom legend box
    const lg=p.leg;
    layout.shapes.push({type:'rect',xref:'paper',yref:'paper',x0:px(lg.box[0]),x1:px(lg.box[2]),y0:py(lg.box[3]),y1:py(lg.box[1]),
      line:{color:'#6a6a6a',width:1},fillcolor:'rgba(0,0,0,0)'});
    p.info.forEach((t,i)=>layout.annotations.push({xref:'paper',yref:'paper',x:px(lg.tx),y:py(lg.ty[i]),text:t,showarrow:false,
      xanchor:'left',yanchor:'middle',font:{family:FONT,size:13.5,color:'#111'}}));
    p.series.forEach((s,i)=>{
      const yy=py(lg.iy[i]);
      layout.shapes.push({type:'line',xref:'paper',yref:'paper',x0:px(lg.sw[0]),x1:px(lg.sw[1]),y0:yy,y1:yy,line:{color:COL[s.c],width:2}});
      if(s.el){const xc=(lg.sw[0]+lg.sw[1])/2;
        layout.shapes.push({type:'line',xref:'paper',yref:'paper',x0:px(xc),x1:px(xc),y0:py(lg.iy[i]-6),y1:py(lg.iy[i]+6),line:{color:ERRCOL[s.c],width:1.6}});}
      layout.annotations.push({xref:'paper',yref:'paper',x:px(lg.sw[1]+1),y:yy,text:'<i>St</i> = '+p.st[i],showarrow:false,
        xanchor:'left',yanchor:'middle',font:{family:FONT,size:14,color:'#111'}});
    });
  }
  pairs.forEach(([X,Y])=>{
    p.series.forEach(s=>{
      const n2=Math.min(s.x.length,s.y.length);
      const xs=s.x.slice(0,n2), ys=s.y.slice(0,n2);
      const tr={type:'scatter',mode:'lines',x:xs,y:ys,xaxis:X,yaxis:Y,line:{color:COL[s.c],width:1.5},hoverinfo:'skip'};
      if(s.el){
        tr.error_y={type:'data',symmetric:false,
          array:ys.map((v,i)=>v*(Math.pow(10,(s.eh&&s.eh[i])||0)-1)),
          arrayminus:ys.map((v,i)=>v*(1-Math.pow(10,-((s.el[i])||0)))),
          color:ERRCOL[s.c],thickness:1.5,width:0};
      }
      data.push(tr);
    });
  });
});
// x-axis titles on the bottom row
layout.xaxis9.title={text:'<i>r</i>/<i>η</i>',font:{family:FONT,size:24,color:'#111'},standoff:4};
layout.xaxis10.title={text:'<i>r</i>/<i>a</i>',font:{family:FONT,size:24,color:'#111'},standoff:4};

Plotly.newPlot('plot',data,layout,{displayModeBar:false,staticPlot:true});
</script></body></html>
